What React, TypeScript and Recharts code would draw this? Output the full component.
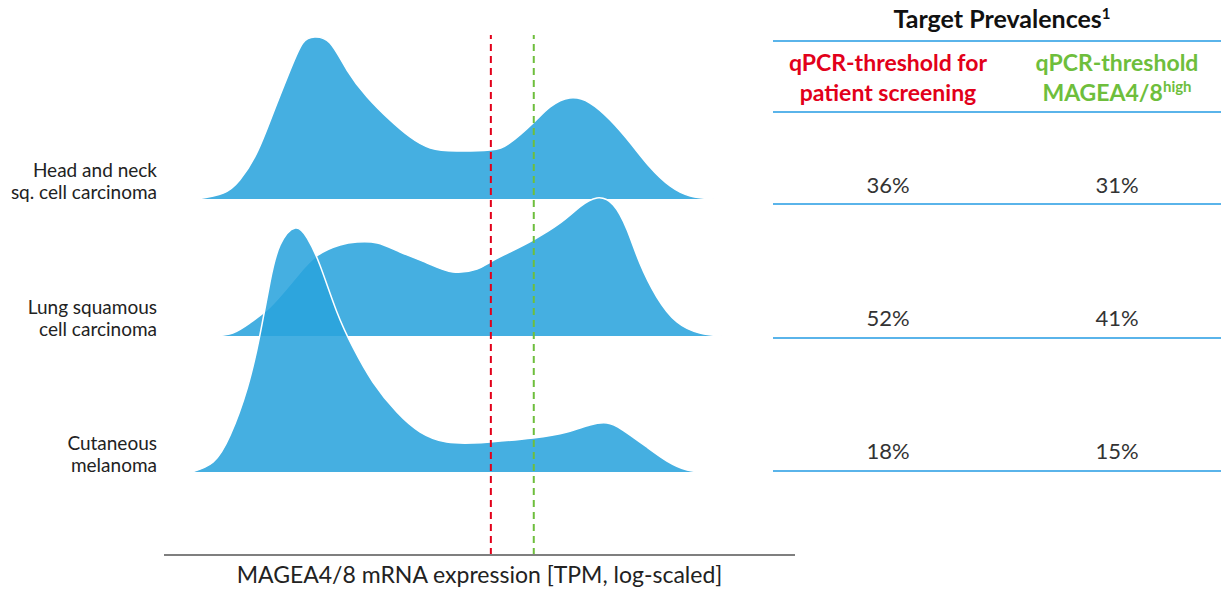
import { ComposedChart, Area, XAxis, YAxis, ReferenceLine } from 'recharts';

// density curves, x in arbitrary log-TPM units (0..10)
const headNeckX = [0.52, 0.94, 1.2, 1.47, 1.73, 2.0, 2.2, 2.39, 2.63, 2.9, 3.22, 3.58, 3.9, 4.22, 4.64, 5.17, 5.48, 5.85, 6.12, 6.43, 6.75, 7.07, 7.39, 7.7, 8.02, 8.34, 8.72];
const headNeckDensity = [0, 0.06, 0.19, 0.46, 0.86, 1.29, 1.56, 1.62, 1.56, 1.29, 1.02, 0.79, 0.62, 0.51, 0.48, 0.49, 0.56, 0.76, 0.92, 1.01, 0.96, 0.79, 0.56, 0.32, 0.13, 0.03, 0];

const lungX = [0.8, 1.09, 1.36, 1.63, 1.87, 2.11, 2.42, 2.79, 3.06, 3.38, 3.74, 4.17, 4.58, 4.96, 5.17, 5.48, 5.85, 6.28, 6.59, 6.86, 7.12, 7.34, 7.54, 7.81, 8.13, 8.49, 8.85];
const lungDensity = [0, 0.03, 0.13, 0.26, 0.42, 0.6, 0.8, 0.91, 0.94, 0.93, 0.84, 0.73, 0.64, 0.67, 0.74, 0.84, 0.96, 1.13, 1.29, 1.38, 1.31, 1.06, 0.73, 0.39, 0.14, 0.03, 0];

const melanomaX = [0.44, 0.78, 1.05, 1.32, 1.52, 1.68, 1.84, 2.08, 2.27, 2.47, 2.74, 3.0, 3.31, 3.69, 4.06, 4.48, 4.9, 5.17, 5.85, 6.39, 6.75, 7.02, 7.27, 7.65, 7.97, 8.29, 8.6];
const melanomaDensity = [0, 0.1, 0.37, 0.84, 1.37, 1.9, 2.27, 2.44, 2.34, 2.07, 1.6, 1.24, 0.9, 0.6, 0.4, 0.3, 0.29, 0.3, 0.34, 0.4, 0.47, 0.49, 0.42, 0.25, 0.11, 0.02, 0];

const rowLabels = [
  ['Head and neck', 'sq. cell carcinoma'],
  ['Lung squamous', 'cell carcinoma'],
  ['Cutaneous', 'melanoma'],
];
const screeningPrevalence = ['36%', '52%', '18%'];
const highPrevalence = ['31%', '41%', '15%'];

const screeningThreshold = 5.18;
const highThreshold = 5.86;

const AXIS_TITLE = 'MAGEA4/8 mRNA expression [TPM, log-scaled]';
const FONT = 'Lato, "Open Sans", sans-serif';
const FILL = '#29A3DD';
const RED = '#E2001A';
const GREEN = '#6EBE3C';
const RULE = '#5AB4EA';

// baseline of each ridge on the y scale
const RIDGE_BASE = [3.56, 2.19, 0.83];

const ridges = [
  { key: 'hn', xs: headNeckX, ys: headNeckDensity, base: RIDGE_BASE[0] },
  { key: 'lung', xs: lungX, ys: lungDensity, base: RIDGE_BASE[1] },
  { key: 'mel', xs: melanomaX, ys: melanomaDensity, base: RIDGE_BASE[2] },
].map((r) => ({
  ...r,
  value: (row: any) => (row[r.key] == null ? null : r.base + row[r.key]),
}));

const rowMap = new Map<number, any>();
ridges.forEach((r) =>
  r.xs.forEach((x, i) => {
    const row = rowMap.get(x) ?? { x };
    row[r.key] = r.ys[i];
    rowMap.set(x, row);
  }),
);
const chartData = [...rowMap.values()].sort((a, b) => a.x - b.x);

function RowLabel({ x, y, payload }: any) {
  const idx = RIDGE_BASE.indexOf(payload.value);
  const [l1, l2] = rowLabels[idx] ?? ['', ''];
  return (
    <text x={x} y={y} textAnchor="end" fill="#222" fontSize={19} fontFamily={FONT}>
      <tspan x={x} dy={-22}>{l1}</tspan>
      <tspan x={x} dy={22}>{l2}</tspan>
    </text>
  );
}

function PrevalenceTable() {
  const rules = [41, 112, 204, 338, 471];
  const valueY = [193, 326, 459];
  const c1 = 888;
  const c2 = 1117;
  return (
    <svg width={1221} height={594} style={{ position: 'absolute', left: 0, top: 0, pointerEvents: 'none' }} fontFamily={FONT}>
      <text x={1002} y={28} textAnchor="middle" fontSize={25} fontWeight={700} fill="#111">
        Target Prevalences<tspan fontSize={15} dy={-9}>1</tspan>
      </text>
      {rules.map((y) => (
        <line key={y} x1={773} x2={1221} y1={y} y2={y} stroke={RULE} strokeWidth={2} />
      ))}
      <text x={c1} y={71} textAnchor="middle" fontSize={23} fontWeight={700} fill={RED}>qPCR-threshold for</text>
      <text x={c1} y={101} textAnchor="middle" fontSize={23} fontWeight={700} fill={RED}>patient screening</text>
      <text x={c2} y={71} textAnchor="middle" fontSize={23} fontWeight={700} fill={GREEN}>qPCR-threshold</text>
      <text x={c2} y={101} textAnchor="middle" fontSize={23} fontWeight={700} fill={GREEN}>
        MAGEA4/8<tspan fontSize={15} dy={-9}>high</tspan>
      </text>
      {valueY.map((y, i) => (
        <g key={y}>
          <text x={c1} y={y} textAnchor="middle" fontSize={22} fill="#333">{screeningPrevalence[i]}</text>
          <text x={c2} y={y} textAnchor="middle" fontSize={22} fill="#333">{highPrevalence[i]}</text>
        </g>
      ))}
    </svg>
  );
}

export default function App() {
  return (
    <div style={{ position: 'absolute', left: 0, top: 0, width: 1221, height: 594, background: '#fff', fontFamily: FONT }}>
      <ComposedChart width={1221} height={594} data={chartData} margin={{ top: 35, right: 426, left: 0, bottom: 0 }}>
        <XAxis
          type="number"
          dataKey="x"
          domain={[0, 10]}
          tick={false}
          tickLine={false}
          axisLine={{ stroke: '#7f7f7f', strokeWidth: 2 }}
          height={39}
          label={{ value: AXIS_TITLE, position: 'insideBottom', offset: 11, fill: '#222', fontSize: 23 }}
        />
        <YAxis
          type="number"
          domain={[0, 5.2]}
          ticks={RIDGE_BASE}
          width={164}
          axisLine={false}
          tickLine={false}
          tickSize={5}
          tickMargin={2}
          tick={<RowLabel />}
        />
        {ridges.map((r) => (
          <Area
            key={r.key}
            dataKey={r.value}
            baseValue={r.base}
            type="natural"
            connectNulls
            fill={FILL}
            fillOpacity={0.87}
            stroke="#fff"
            strokeWidth={1.5}
            isAnimationActive={false}
            dot={false}
            activeDot={false}
          />
        ))}
        <ReferenceLine x={screeningThreshold} stroke={RED} strokeWidth={2} strokeDasharray="7 5" />
        <ReferenceLine x={highThreshold} stroke={GREEN} strokeWidth={2} strokeDasharray="7 5" />
      </ComposedChart>
      <PrevalenceTable />
    </div>
  );
}
